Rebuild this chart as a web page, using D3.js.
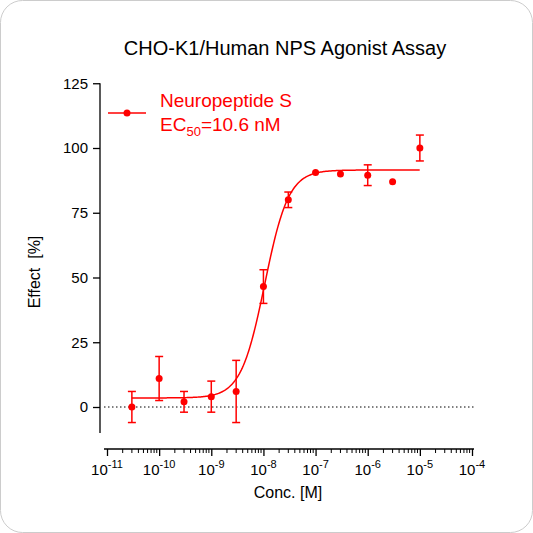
<!DOCTYPE html>
<html><head><meta charset="utf-8">
<script src="https://cdn.jsdelivr.net/npm/d3@7"></script>
<style>body{margin:0;background:#fff}text{font-family:Arial,"Liberation Sans",sans-serif}</style>
</head><body>
<svg id="c" width="533" height="533"></svg>
<script>
// data
var conc = [3e-11, 1e-10, 3e-10, 1e-9, 3e-9, 1e-8, 3e-8, 1e-7, 3e-7, 1e-6, 3e-6, 1e-5];
var effect = [0, 11, 2, 4, 6, 46.5, 80, 90.5, 90, 89.5, 87, 100];
var errs = [6, 8.5, 4, 6, 12, 6.5, 3, 0, 0, 4, 0, 5];
var fitBottom = 3.5, fitTop = 91.5, ec50 = 10.6e-9, hill = 1.9;
var xTicks = [-11, -10, -9, -8, -7, -6, -5, -4];
var yTicks = [0, 25, 50, 75, 100, 125];

var svg = d3.select("#c");
svg.append("rect").attr("x", 0.5).attr("y", 0.5).attr("width", 532).attr("height", 532)
    .attr("rx", 22).attr("fill", "#fff").attr("stroke", "#ccc");

var x = d3.scaleLog().domain([1e-11, 1e-4]).range([107, 472]);
var y = d3.scaleLinear().domain([0, 100]).range([407, 148]);
var red = "#f00";

svg.append("text").attr("x", 285).attr("y", 55).attr("text-anchor", "middle")
    .attr("font-size", 20).text("CHO-K1/Human NPS Agonist Assay");

// y axis
var ya = svg.append("g").attr("transform", "translate(100,0)")
    .call(d3.axisLeft(y).tickValues(yTicks).tickSize(7).tickSizeOuter(0));
ya.select(".domain").attr("d", "M0," + y(125) + "V" + y(-10));
ya.selectAll("text").attr("font-size", 15).attr("dx", -2).attr("font-family", "Arial,'Liberation Sans',sans-serif");
ya.selectAll("path,line").attr("stroke-width", 1.3);

// x axis
var xa = svg.append("g").attr("transform", "translate(0,449)")
    .call(d3.axisBottom(x).tickValues(xTicks.map(function(e){return Math.pow(10, e);}))
        .tickFormat("").tickSize(7).tickSizeOuter(0));
xa.select(".domain").attr("d", "M104,0H474");
xa.selectAll("path,line").attr("stroke-width", 1.3);
var minor = [];
xTicks.slice(0, -1).forEach(function(e){ for (var k = 2; k < 10; k++) minor.push(k * Math.pow(10, e)); });
xa.selectAll(".mn").data(minor).enter().append("line")
    .attr("x1", function(d){return x(d);}).attr("x2", function(d){return x(d);})
    .attr("y1", 0).attr("y2", 4).attr("stroke", "#000");
var lab = svg.append("g").selectAll("text").data(xTicks).enter().append("text")
    .attr("x", function(d){return x(Math.pow(10, d));}).attr("y", 475)
    .attr("text-anchor", "middle").attr("font-size", 15);
lab.append("tspan").text("10");
lab.append("tspan").attr("dy", -7).attr("font-size", 11).text(function(d){return d;});

svg.append("text").attr("x", 288).attr("y", 498).attr("text-anchor", "middle")
    .attr("font-size", 16).text("Conc. [M]");
svg.append("text").attr("transform", "translate(40,272) rotate(-90)").attr("text-anchor", "middle")
    .attr("font-size", 16).text("Effect\u00a0\u00a0[%]");

// zero line
svg.append("line").attr("x1", 104).attr("x2", 474).attr("y1", y(0)).attr("y2", y(0))
    .attr("stroke", "#000").attr("stroke-dasharray", "1.5,2.5");

// fit curve
var lx = d3.range(Math.log10(3e-11), Math.log10(1e-5) + 0.001, 0.02);
var line = d3.line().x(function(d){return x(Math.pow(10, d));})
    .y(function(d){return y(fitBottom + (fitTop - fitBottom) / (1 + Math.pow(ec50 / Math.pow(10, d), hill)));});
svg.append("path").datum(lx).attr("d", line).attr("fill", "none").attr("stroke", red).attr("stroke-width", 1.5);

// points + error bars
var pts = svg.append("g").selectAll("g").data(conc).enter().append("g");
pts.each(function(d, j){
    if (!errs[j]) return;
    var g = d3.select(this), cx = x(d);
    g.append("line").attr("x1", cx).attr("x2", cx).attr("y1", y(effect[j] - errs[j])).attr("y2", y(effect[j] + errs[j]))
        .attr("stroke", red).attr("stroke-width", 1.5);
    [-1, 1].forEach(function(s){
        g.append("line").attr("x1", cx - 4).attr("x2", cx + 4)
            .attr("y1", y(effect[j] + s * errs[j])).attr("y2", y(effect[j] + s * errs[j]))
            .attr("stroke", red).attr("stroke-width", 1.5);
    });
});
pts.append("circle").attr("cx", function(d){return x(d);}).attr("cy", function(d, i){return y(effect[i]);})
    .attr("r", 3.5).attr("fill", red);

// legend
svg.append("line").attr("x1", 108).attr("x2", 146).attr("y1", 113).attr("y2", 113).attr("stroke", red).attr("stroke-width", 1.5);
svg.append("circle").attr("cx", 127).attr("cy", 113).attr("r", 3.5).attr("fill", red);
svg.append("text").attr("x", 160).attr("y", 107).attr("fill", red).attr("font-size", 19).text("Neuropeptide S");
var t2 = svg.append("text").attr("x", 160).attr("y", 131).attr("fill", red).attr("font-size", 19);
t2.append("tspan").text("EC");
t2.append("tspan").attr("dy", 5).attr("font-size", 13).text("50");
t2.append("tspan").attr("dy", -5).text("=10.6 nM");
</script>
</body></html>
